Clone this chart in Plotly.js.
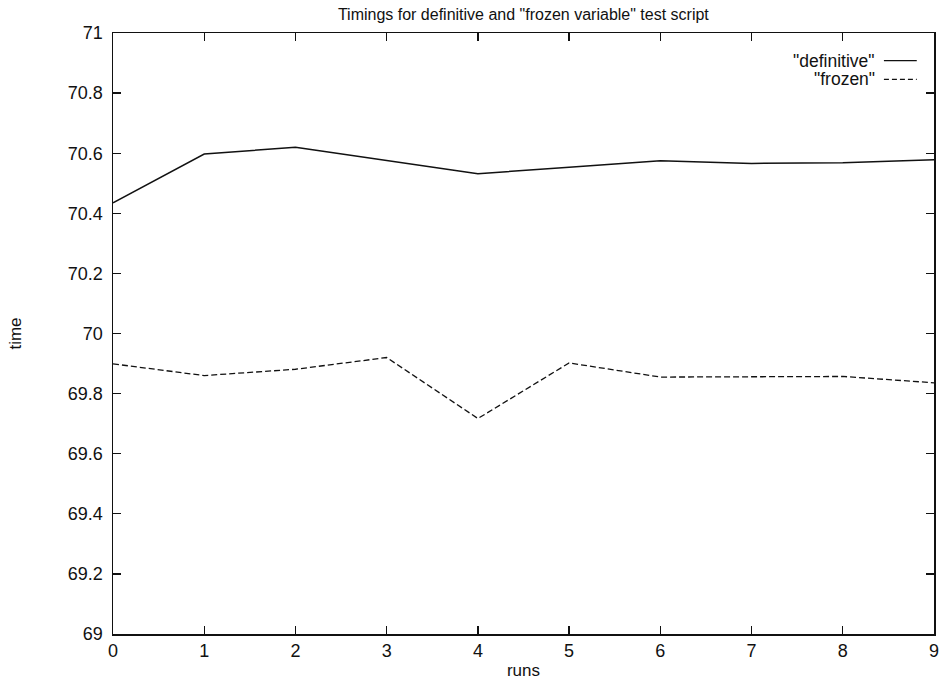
<!DOCTYPE html>
<html>
<head>
<meta charset="utf-8">
<script src="https://cdn.plot.ly/plotly-3.0.1.min.js"></script>
<style>html,body{margin:0;padding:0;background:#fff;}#chart{width:943px;height:683px;}</style>
</head>
<body>
<div id="chart"></div>
<script>
const runs = [0, 1, 2, 3, 4, 5, 6, 7, 8, 9];
const definitive = [70.435, 70.597, 70.620, 70.575, 70.532, 70.553, 70.575, 70.566, 70.568, 70.578];
const frozen = [69.899, 69.860, 69.881, 69.920, 69.717, 69.902, 69.855, 69.856, 69.857, 69.836];
const seriesNames = ['"definitive"', '"frozen"'];
const yTicks = [69, 69.2, 69.4, 69.6, 69.8, 70, 70.2, 70.4, 70.6, 70.8, 71];

const fam = '"Liberation Sans", Arial, Helvetica, sans-serif';
const tickFont = {family: fam, size: 18, color: '#111'};
const titleFont = {family: fam, size: 16, color: '#111'};
const labelFont = {family: fam, size: 17, color: '#111'};
const legendFont = {family: fam, size: 17.5, color: '#111'};

const traces = [
  {x: runs, y: definitive, name: seriesNames[0], mode: 'lines', line: {color: '#111', width: 1.5, dash: 'solid'}, showlegend: false},
  {x: runs, y: frozen, name: seriesNames[1], mode: 'lines', line: {color: '#111', width: 1.3, dash: '6px,3px'}, showlegend: false}
];

const axisCommon = {
  showgrid: false, zeroline: false, showline: true, mirror: 'ticks',
  linecolor: '#111', linewidth: 1.5, ticks: 'inside', ticklen: 8, tickcolor: '#111', tickwidth: 1.3,
  tickfont: tickFont
};

const layout = {
  width: 943, height: 683,
  margin: {l: 113, r: 9, t: 33, b: 49},
  paper_bgcolor: '#fff', plot_bgcolor: '#fff',
  font: tickFont,
  title: {text: 'Timings for definitive and "frozen variable" test script', x: 0.555, xanchor: 'center', y: 0.979, yanchor: 'middle', font: titleFont},
  xaxis: Object.assign({}, axisCommon, {range: [0, 9], tickvals: runs, ticktext: runs.map(String),
    title: {text: 'runs', font: labelFont, standoff: 4}}),
  yaxis: Object.assign({}, axisCommon, {range: [69, 71], tickvals: yTicks, ticktext: yTicks.map(v => String(v)),
    ticklabelstandoff: 5,
    title: {text: 'time', font: labelFont, standoff: 42}}),
  annotations: [
    {xref: 'paper', yref: 'paper', x: 0.931, y: 0.954, xanchor: 'right', yanchor: 'middle', text: seriesNames[0], showarrow: false, font: legendFont},
    {xref: 'paper', yref: 'paper', x: 0.931, y: 0.923, xanchor: 'right', yanchor: 'middle', text: seriesNames[1], showarrow: false, font: legendFont}
  ],
  shapes: [
    {type: 'line', xref: 'paper', yref: 'paper', x0: 0.939, x1: 0.979, y0: 0.954, y1: 0.954, line: {color: '#111', width: 1.3}},
    {type: 'line', xref: 'paper', yref: 'paper', x0: 0.939, x1: 0.979, y0: 0.923, y1: 0.923, line: {color: '#111', width: 1.2, dash: '5px,3px'}}
  ]
};

Plotly.newPlot('chart', traces, layout, {displayModeBar: false, staticPlot: true});
</script>
</body>
</html>
